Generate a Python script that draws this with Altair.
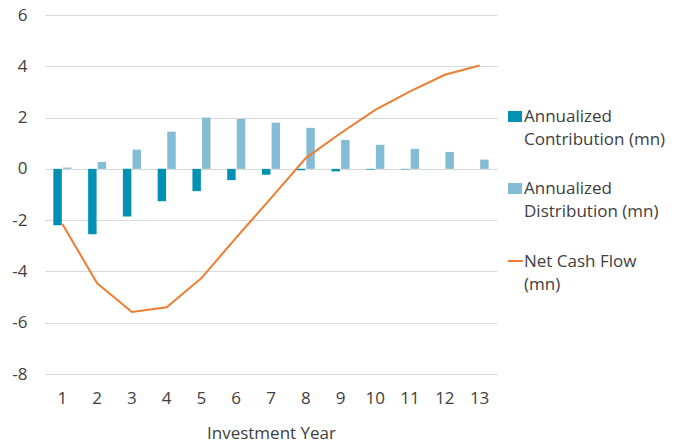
import altair as alt
import pandas as pd

years = list(range(1, 14))
contribution = [-2.2, -2.55, -1.86, -1.26, -0.87, -0.44, -0.23, -0.05, -0.1, -0.03, -0.02, 0.0, 0.0]
distribution = [0.05, 0.27, 0.75, 1.45, 2.0, 1.95, 1.8, 1.6, 1.13, 0.94, 0.78, 0.66, 0.36]
net_cash_flow = [-2.15, -4.46, -5.58, -5.4, -4.26, -2.68, -1.14, 0.42, 1.39, 2.3, 3.02, 3.67, 4.03]

series_names = ["Annualized Contribution (mn)", "Annualized Distribution (mn)"]
legend_labels = ["Annualized\nContribution (mn)", "Annualized\nDistribution (mn)", "Net Cash Flow\n(mn)"]
y_ticks = [-8, -6, -4, -2, 0, 2, 4, 6]

C_CONTRIB = "#0391b3"
C_DIST = "#85bcd5"
C_LINE = "#ed7d31"
TEXT = "#404040"
FONT = "Open Sans"
FS = 17

bars_df = pd.DataFrame({
    "Year": years * 2,
    "Series": [series_names[0]] * 13 + [series_names[1]] * 13,
    "Value": contribution + distribution,
})
line_df = pd.DataFrame({"Year": years, "Net": net_cash_flow})

x_enc = alt.X("Year:O", title="Investment Year",
              scale=alt.Scale(paddingInner=0.48, paddingOuter=0.24),
              axis=alt.Axis(labelAngle=0, ticks=False, domain=False, labelPadding=16,
                            titlePadding=19, grid=False))
y_scale = alt.Scale(domain=[-8, 6], nice=False)
y_axis = alt.Axis(values=y_ticks, ticks=False, domain=False, labelPadding=18,
                  labelExpr="'' + datum.value",
                  grid=True, gridColor="#d9d9d9", gridWidth=1, title=None)

bars = alt.Chart(bars_df).mark_bar().encode(
    x=x_enc,
    xOffset=alt.XOffset("Series:N", sort=series_names,
                        scale=alt.Scale(paddingInner=0.12, paddingOuter=0)),
    y=alt.Y("Value:Q", scale=y_scale, axis=y_axis),
    color=alt.Color("Series:N", sort=series_names,
                    scale=alt.Scale(domain=series_names, range=[C_CONTRIB, C_DIST]),
                    legend=None),
)

line = alt.Chart(line_df).mark_line(color=C_LINE, strokeWidth=2).encode(
    x=alt.X("Year:O"),
    y=alt.Y("Net:Q", scale=y_scale),
)

one = alt.Data(values=[{"k": 1}])
leg1 = alt.Chart(one).mark_rect(color=C_CONTRIB).encode(
    x=alt.value(463), x2=alt.value(477), y=alt.value(96), y2=alt.value(107))
leg2 = alt.Chart(one).mark_rect(color=C_DIST).encode(
    x=alt.value(463), x2=alt.value(477), y=alt.value(168), y2=alt.value(179))
leg3 = alt.Chart(one).mark_rule(color=C_LINE, strokeWidth=2).encode(
    x=alt.value(463), x2=alt.value(478), y=alt.value(246))

def leg_text(label, y):
    return alt.Chart(one).mark_text(
        align="left", baseline="alphabetic", lineBreak="\n", lineHeight=23,
        font=FONT, fontSize=FS, color=TEXT,
    ).encode(x=alt.value(479), y=alt.value(y), text=alt.value(label))

t1 = leg_text(legend_labels[0], 107)
t2 = leg_text(legend_labels[1], 179)
t3 = leg_text(legend_labels[2], 252)

chart = alt.layer(bars, line, leg1, leg2, leg3, t1, t2, t3).properties(
    width=452, height=359,
    autosize=alt.AutoSizeParams(type="none"),
    padding={"left": 45, "top": 15, "right": 188, "bottom": 68},
).configure_view(stroke=None).configure_axis(
    labelFont=FONT, titleFont=FONT, labelFontSize=FS, titleFontSize=FS,
    labelColor=TEXT, titleColor=TEXT, titleFontWeight="normal",
)

chart.save("out.html", embed_options={"renderer": "svg", "actions": False})
